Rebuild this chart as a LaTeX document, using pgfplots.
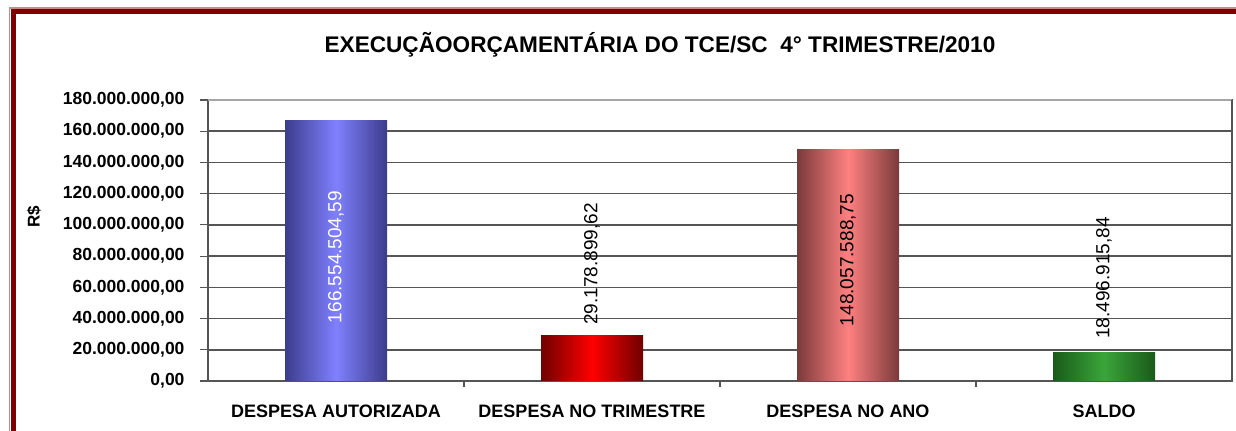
\documentclass[border=0pt]{standalone}
\usepackage{pgfplots}
\pgfplotsset{compat=1.18}
\usepackage{fontspec}
\setmainfont{Liberation Sans}
\definecolor{frameRed}{RGB}{128,0,0}
\definecolor{gridGray}{RGB}{85,85,85}
\definecolor{blueD}{RGB}{60,60,140}
\definecolor{blueL}{RGB}{128,128,255}
\definecolor{redD}{RGB}{112,0,0}
\definecolor{redL}{RGB}{255,0,0}
\definecolor{pinkD}{RGB}{122,58,58}
\definecolor{pinkL}{RGB}{255,128,128}
\definecolor{greenD}{RGB}{26,90,26}
\definecolor{greenL}{RGB}{58,165,58}
\begin{document}
\begin{tikzpicture}
\useasboundingbox (0,0) rectangle (1236bp,431bp);
\begin{scope}
\clip (0,0) rectangle (1236bp,431bp);
\draw[color=frameRed!45, line width=1.5bp] (9.5bp,-40bp) -- (9.5bp,423bp) -- (1300bp,423bp);
\draw[color=frameRed, line width=5bp] (13.5bp,-40bp) -- (13.5bp,419.5bp) -- (1300bp,419.5bp);
\end{scope}
\node[font=\fontsize{22.6bp}{24bp}\selectfont\bfseries, inner sep=0pt] at (660bp,386bp) {EXECUÇÃOORÇAMENTÁRIA DO TCE/SC\ \ 4° TRIMESTRE/2010};
\node[font=\fontsize{17bp}{19bp}\selectfont\bfseries, rotate=90, inner sep=0pt] at (34bp,214bp) {R\$};
\begin{axis}[
  at={(208bp,50bp)}, anchor=south west,
  width=1024bp, height=281bp, scale only axis,
  xmin=-0.5, xmax=3.5, ymin=0, ymax=180000000,
  scaled y ticks=false,
  axis line style={draw=gridGray, line width=1.2bp},
  xtick={0,1,2,3},
  xticklabels={DESPESA AUTORIZADA, DESPESA NO TRIMESTRE, DESPESA NO ANO, SALDO},
  x tick label style={font=\fontsize{18bp}{20bp}\selectfont\bfseries, yshift=-12bp},
  xtick pos=bottom, xtick style={draw=none},
  extra x ticks={0.5,1.5,2.5},
  extra x tick labels={},
  extra x tick style={tick align=outside, major tick length=6bp, xtick style={draw=gridGray, line width=1.2bp}, grid=none},
  ytick={0,20000000,40000000,60000000,80000000,100000000,120000000,140000000,160000000,180000000},
  yticklabels={{0,00},{20.000.000,00},{40.000.000,00},{60.000.000,00},{80.000.000,00},{100.000.000,00},{120.000.000,00},{140.000.000,00},{160.000.000,00},{180.000.000,00}},
  y tick label style={font=\fontsize{17.5bp}{19bp}\selectfont\bfseries, xshift=-12bp},
  ytick pos=left, tick align=outside, major tick length=8bp,
  ytick style={draw=gridGray, line width=1.2bp},
  ymajorgrids, grid style={draw=gridGray, line width=1.6bp},
  clip=false,
]
\addplot[ybar, bar width=102bp, bar shift=0pt, draw=none, left color=blueD, right color=blueD, middle color=blueL] coordinates {(0,166554504.59)};
\addplot[ybar, bar width=102bp, bar shift=0pt, draw=none, left color=redD, right color=redD, middle color=redL] coordinates {(1,29178899.62)};
\addplot[ybar, bar width=102bp, bar shift=0pt, draw=none, left color=pinkD, right color=pinkD, middle color=pinkL] coordinates {(2,148057588.75)};
\addplot[ybar, bar width=102bp, bar shift=0pt, draw=none, left color=greenD, right color=greenD, middle color=greenL] coordinates {(3,18496915.84)};
\draw[gray!70, line width=1.2bp] (rel axis cs:0,1) -- (rel axis cs:1,1);
\draw[gridGray, line width=1.2bp] (rel axis cs:1,0) -- (rel axis cs:1,1);
\node[rotate=90, white, font=\fontsize{19bp}{21bp}\selectfont, inner sep=0pt] at (axis cs:0,79400000) {166.554.504,59};
\node[rotate=90, black, font=\fontsize{19bp}{21bp}\selectfont, inner sep=0pt] at (axis cs:1,74900000) {29.178.899,62};
\node[rotate=90, black, font=\fontsize{19bp}{21bp}\selectfont, inner sep=0pt] at (axis cs:2,77500000) {148.057.588,75};
\node[rotate=90, black, font=\fontsize{19bp}{21bp}\selectfont, inner sep=0pt] at (axis cs:3,66000000) {18.496.915,84};
\end{axis}
\end{tikzpicture}
\end{document}
